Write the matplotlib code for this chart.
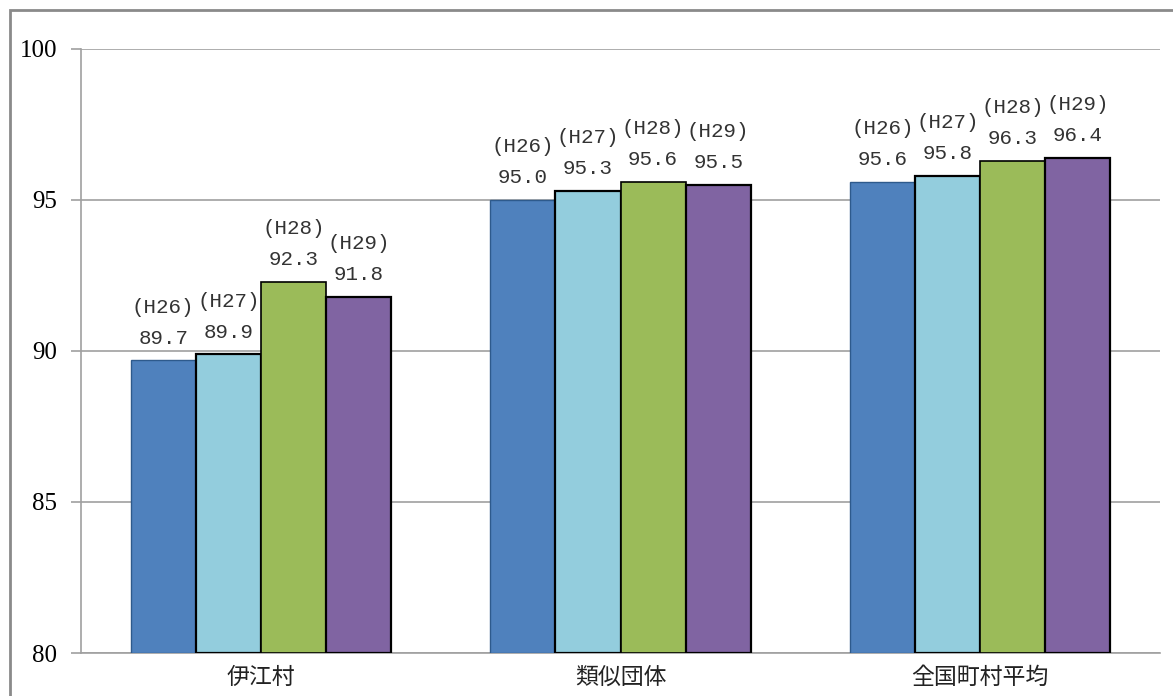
import matplotlib
matplotlib.use("Agg")
import matplotlib.pyplot as plt
from matplotlib.patches import Rectangle
import numpy as np

categories = ["伊江村", "類似団体", "全国町村平均"]
series_names = ["(H26)", "(H27)", "(H28)", "(H29)"]
h26 = [89.7, 95.0, 95.6]
h27 = [89.9, 95.3, 95.8]
h28 = [92.3, 95.6, 96.3]
h29 = [91.8, 95.5, 96.4]
yticks = [80, 85, 90, 95, 100]

series = [h26, h27, h28, h29]
colors = ["#4F81BD", "#93CDDD", "#9BBB59", "#8064A2"]
edgecolors = ["#2E5A8C", "black", "black", "black"]
edgewidths = [1.0, 1.6, 1.2, 1.6]

fig = plt.figure(figsize=(11.73, 6.96), dpi=100)
ax = fig.add_axes([81/1173, 1-653/696, (1160-81)/1173, (653-49)/696])

# outer frame
fig.patches.append(Rectangle((10/1173, -0.05), 1.2, 1-10/696+0.05,
                             transform=fig.transFigure, fill=False,
                             edgecolor="#8a8a8a", linewidth=2, zorder=0))

x = np.arange(len(categories))
w = 0.181
for i, (vals, c, ec, lw) in enumerate(zip(series, colors, edgecolors, edgewidths)):
    pos = x + (i - 1.5) * w
    ax.bar(pos, [v - 80 for v in vals], bottom=80, width=w, color=c,
           edgecolor=ec, linewidth=lw, zorder=3)
    for px, v in zip(pos, vals):
        ax.annotate(f"{series_names[i]}\n{v:.1f}", (px, v), xytext=(0, 9),
                    textcoords="offset points", ha="center", va="bottom",
                    fontsize=15, family=["Liberation Mono", "DejaVu Sans Mono"],
                    linespacing=1.8, color="#333333")

ax.set_xlim(-0.5, 2.5)
ax.set_ylim(80, 100)
ax.set_yticks(yticks)
ax.set_yticklabels([str(t) for t in yticks], fontsize=18,
                   family=["Liberation Serif", "DejaVu Serif"])
ax.set_xticks(x)
ax.set_xticklabels(categories, fontsize=16.5,
                   family=["Noto Sans CJK JP", "DejaVu Sans"], color="#222222")
ax.tick_params(axis="x", length=0, pad=9)
ax.tick_params(axis="y", length=7, color="#a0a0a0", width=1.2, pad=10)
ax.yaxis.grid(True, color="#a0a0a0", linewidth=1.2, zorder=0)
ax.set_axisbelow(True)
for s in ["top", "right"]:
    ax.spines[s].set_visible(False)
ax.spines["left"].set_color("#a0a0a0")
ax.spines["left"].set_linewidth(1.2)
ax.spines["bottom"].set_color("#a0a0a0")
ax.spines["bottom"].set_linewidth(1.2)

fig.savefig("out.png", dpi=100)
